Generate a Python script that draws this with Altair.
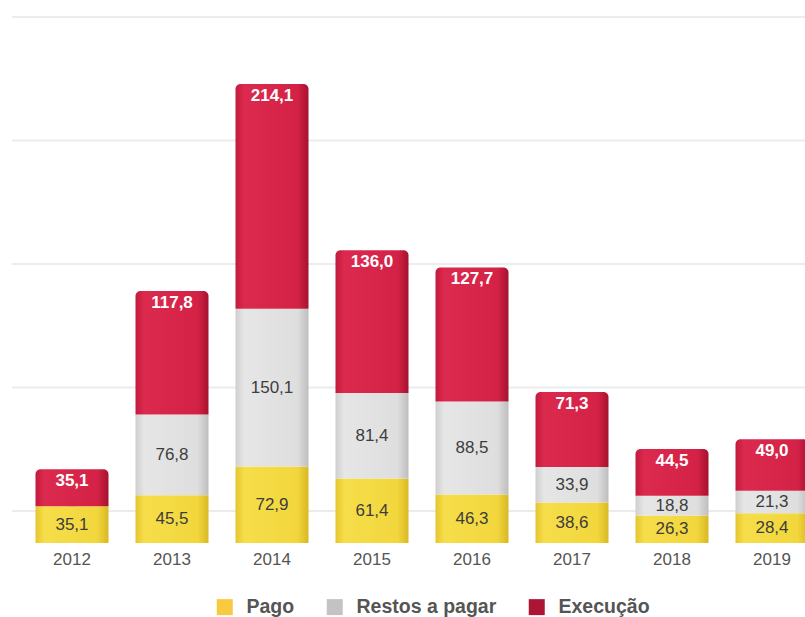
import altair as alt
import pandas as pd

years = ["2012", "2013", "2014", "2015", "2016", "2017", "2018", "2019"]
pago = [35.1, 45.5, 72.9, 61.4, 46.3, 38.6, 26.3, 28.4]
restos = [0.0, 76.8, 150.1, 81.4, 88.5, 33.9, 18.8, 21.3]
execucao = [35.1, 117.8, 214.1, 136.0, 127.7, 71.3, 44.5, 49.0]
series = ["Pago", "Restos a pagar", "Execução"]
grid_values = [0, 125, 250, 375, 500]

def fmt(v):
    return f"{v:.1f}".replace(".", ",")

rows = []
for i, y in enumerate(years):
    base = 0.0
    for s, vals in zip(series, [pago, restos, execucao]):
        v = vals[i]
        rows.append({"year": y, "series": s, "start": base, "end": base + v,
                     "mid": base + v / 2, "label": fmt(v) if v > 0 else ""})
        base += v
df = pd.DataFrame(rows)
grid_df = pd.DataFrame({"g": grid_values})

W, H, B = 805, 617, 543
xscale = alt.Scale(domain=years, range=[22, 822], paddingInner=0.27, paddingOuter=0.135)
yscale = alt.Scale(domain=[0, B / 1.05], range=[B, 0], nice=False, zero=False)

def grad(c0, c1, c2, c3):
    return alt.LinearGradient(gradient="linear", x1=0, y1=0, x2=1, y2=0,
                              stops=[alt.GradientStop(offset=0, color=c0),
                                     alt.GradientStop(offset=0.12, color=c1),
                                     alt.GradientStop(offset=0.85, color=c2),
                                     alt.GradientStop(offset=1, color=c3)])

fills = {
    "Pago": grad("#e6c52e", "#f6de4a", "#f2d63c", "#d9b824"),
    "Restos a pagar": grad("#cfcfcf", "#e6e6e6", "#dedede", "#bdbdbd"),
    "Execução": grad("#c21a3d", "#dc2a4e", "#d42246", "#a7122f"),
}

X = alt.X("year:N", scale=xscale, axis=None)

grid = alt.Chart(grid_df).mark_rule(color="#ececec", strokeWidth=2).encode(
    y=alt.Y("g:Q", scale=alt.Scale(domain=[-32.4, 517.2], range=[B, 0], nice=False, zero=False), axis=None),
    x=alt.value(12), x2=alt.value(805)
)

# legend source: small squares hidden behind the bars
legend_src = alt.Chart(df).mark_square(opacity=1).encode(
    x=X,
    y=alt.Y("mid:Q", scale=yscale, axis=None),
    color=alt.Color("series:N",
                    scale=alt.Scale(domain=series, range=["#f9c93f", "#c3c3c3", "#ae1434"]),
                    sort=series,
                    legend=alt.Legend(title=None, orient="none", legendX=215, legendY=597,
                                      direction="horizontal", symbolType="square",
                                      symbolSize=256, symbolStrokeWidth=0, symbolOpacity=1,
                                      labelFontSize=19.5, labelFontWeight="bold",
                                      labelColor="#555555", labelFont="Liberation Sans",
                                      labelOffset=12, columnPadding=30)),
)

layers = [grid, legend_src]
for s in series:
    sub = alt.Chart(df).transform_filter(alt.datum.series == s).mark_bar(
        color=fills[s],
        cornerRadiusTopLeft=5 if s == "Execução" else 0,
        cornerRadiusTopRight=5 if s == "Execução" else 0,
    ).encode(
        x=X,
        y=alt.Y("start:Q", scale=yscale, axis=None),
        y2="end:Q",
    )
    layers.append(sub)

dark_labels = alt.Chart(df).transform_filter(
    (alt.datum.series != "Execução") & (alt.datum.label != "")
).mark_text(fontSize=17, color="#3d3d3d", font="Liberation Sans", baseline="middle").encode(
    x=X,
    y=alt.Y("mid:Q", scale=yscale, axis=None),
    text="label:N",
)
red_labels = alt.Chart(df).transform_filter(alt.datum.series == "Execução").mark_text(
    fontSize=17, color="white", fontWeight="bold", font="Liberation Sans",
    baseline="top", dy=4
).encode(
    x=X,
    y=alt.Y("end:Q", scale=yscale, axis=None),
    text="label:N",
)
year_labels = alt.Chart(df).transform_filter(alt.datum.series == "Pago").mark_text(
    fontSize=17, color="#555555", font="Liberation Sans", baseline="top", dy=9
).encode(
    x=X,
    y=alt.Y("start:Q", scale=yscale, axis=None),
    text="year:N",
)
layers += [dark_labels, red_labels, year_labels]

chart = alt.layer(*layers).resolve_scale(y="independent").properties(
    width=W, height=H, autosize=alt.AutoSizeParams(type="none"), padding=0,
    background="white"
).configure_view(stroke=None)

chart.save("out.html", embed_options={"renderer": "svg", "actions": False})
